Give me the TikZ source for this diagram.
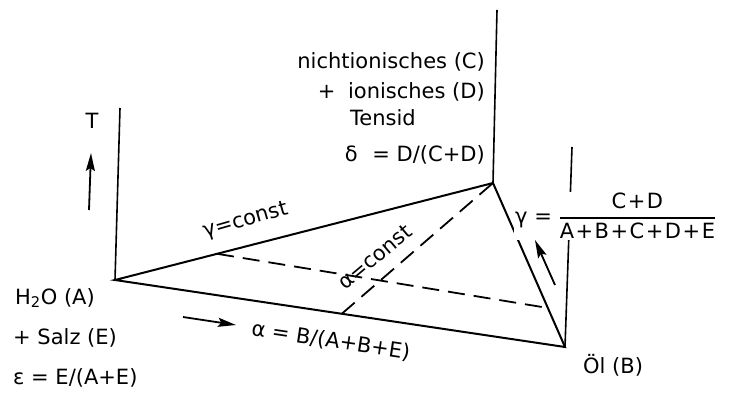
\documentclass[tikz,border=0pt]{standalone}
\usepackage{amsmath}
\usepackage{fontspec}
\setmainfont{DejaVu Sans}
\usetikzlibrary{calc,arrows.meta}

\begin{document}
\begin{tikzpicture}[x=1pt,y=-1pt,
		every node/.style={font=\fontsize{21}{25}\selectfont,inner sep=1pt},
		kante/.style={line width=2pt},
		achse/.style={line width=1.6pt},
		schnitt/.style={line width=1.8pt,dash pattern=on 17pt off 9pt},
		pfeil/.style={line width=1.8pt,-{Stealth[length=18pt,width=9pt,inset=3pt]}}]
		\useasboundingbox (0,0) rectangle (729,396);
		% Ecken und Achsen
		\coordinate (A) at (115,280);
		\coordinate (B) at (565,347);
		\coordinate (C) at (493,183);
		\coordinate (At) at (120,108);
		\coordinate (Bt) at (572,147);
		\coordinate (Ct) at (497,10);
		\coordinate (G1) at ($(A)!0.27!(C)$);
		\coordinate (G2) at ($(C)!0.762!(B)$);
		\coordinate (Al) at ($(A)!0.504!(B)$);
		\draw[achse] (A) -- (At) ;
		\draw[achse] (C) -- (Ct) ;
		\draw[achse] (B) -- (Bt) ;
		\draw[kante] (A) -- (C) -- (B) -- cycle ;
		\draw[schnitt] (G1) -- (G2) ;
		\draw[schnitt] (Al) -- (C) ;
		% Richtungspfeile
		\coordinate (Tu) at (89,210); \coordinate (To) at (91,153);
		\coordinate (au) at (183,317); \coordinate (ao) at (236,325);
		\coordinate (gu) at (555,285); \coordinate (go) at (535,240);
		\draw[pfeil] (Tu) -- (To) ;
		\draw[pfeil] (au) -- (ao) ;
		\draw[pfeil] (gu) -- (go) ;
		% Beschriftungen
		\node (T) at (92,121) {T};
		\node[anchor=west] (HO) at (14,298) {H\textsubscript{2}O (A)};
		\node[anchor=west] (salz) at (12,338) {+ Salz (E)};
		\node[anchor=west] (eps) at (12,378) {ε = E/(A+E)};
		\node[anchor=west] (oel) at (582,365) {Öl (B)};
		\node[anchor=east] (nicht) at (486,62) {nichtionisches (C)};
		\node[anchor=east] (ion) at (486,92) {+\hspace{0.6em}ionisches (D)};
		\node (tens) at (383,118) {Tensid};
		\node[anchor=east] (delta) at (486,155) {δ\hspace{0.7em}= D/(C+D)};
		\node[rotate=16] (gconst) at (246,221) {γ=const};
		\node[rotate=40] (aconst) at (375,257) {α=const};
		\node[rotate=-8.5] (alpha) at (331,341) {α = B/(A+B+E)};
		\node[fill=white,anchor=west] (gam) at (514,216) {γ = $\genfrac{}{}{1.4pt}{0}{\text{C\kern1.5pt+\kern1.5pt D}}{\text{A\kern1.5pt+\kern1.5pt B\kern1.5pt+\kern1.5pt C\kern1.5pt+\kern1.5pt D\kern1.5pt+\kern1.5pt E}}$};
	\end{tikzpicture}
\end{document}
